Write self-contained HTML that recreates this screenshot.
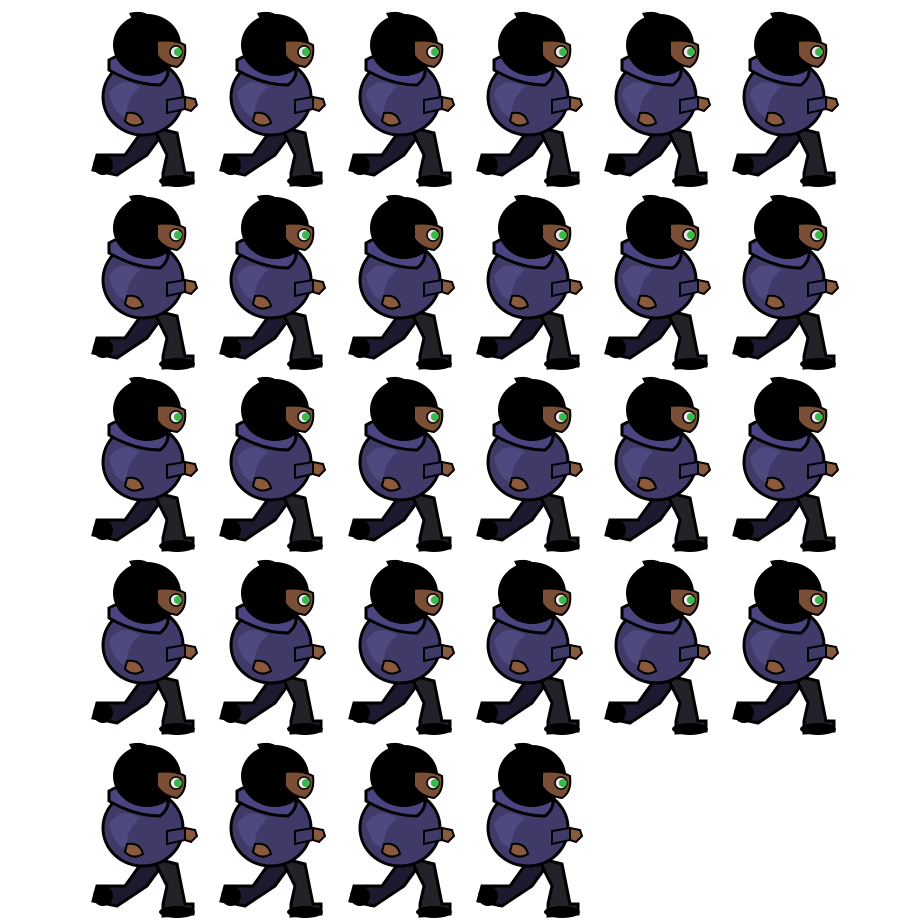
<!DOCTYPE html>
<html><head><meta charset="utf-8"><style>html,body{margin:0;padding:0;background:#fff;width:920px;height:920px;overflow:hidden}</style></head>
<body>
<svg id="s" width="920" height="920" viewBox="0 0 920 920" xmlns="http://www.w3.org/2000/svg">
<defs>
<g id="fig">
  <path d="M60 122 L40 150 L12 150 L8 165 L32 170 L62 150 L78 128 Z" fill="#1b1a2e" stroke="#000" stroke-width="3"/>
  <path d="M68 122 L92 128 L100 168 L108 168 L108 178 L78 180 L78 168 L82 150 Z" fill="#232229" stroke="#000" stroke-width="3"/>
  <ellipse cx="92" cy="176" rx="18" ry="6" fill="#000"/>
  <ellipse cx="18" cy="160" rx="10" ry="10" fill="#000"/>
  <ellipse cx="58" cy="92" rx="40" ry="38" fill="#3f3a68" stroke="#000" stroke-width="3"/>
  <path d="M24 88 Q35 70 55 82 Q40 95 42 112 Q30 112 24 88Z" fill="#4e4a80"/>
  <path d="M24 55 Q50 40 80 55 Q88 70 75 80 Q50 80 24 65 Z" fill="#4a4580" stroke="#000" stroke-width="3"/>
  <path d="M82 95 L100 92 L100 104 L82 108Z" fill="#3f3a68" stroke="#000" stroke-width="2"/>
  <path d="M100 92 L110 94 L112 100 L106 106 L100 104Z" fill="#8a5a3c" stroke="#000" stroke-width="2"/>
  <path d="M42 108 Q55 106 58 118 Q48 124 40 116Z" fill="#8a5a3c" stroke="#000" stroke-width="2"/>
  <ellipse cx="62" cy="40" rx="34" ry="31" fill="#000"/>
  <path d="M44 8 Q62 4 66 14 L48 16Z" fill="#000"/>
  <path d="M72 36 Q90 34 100 40 Q102 56 92 62 Q78 60 72 50Z" fill="#7a4e34" stroke="#000" stroke-width="2"/>
  <circle cx="91" cy="47" r="6" fill="#e8e8e8" stroke="#000" stroke-width="1.5"/>
  <circle cx="93" cy="47" r="4" fill="#3cb84a"/>
</g>
</defs>
</svg>
<script>
const cols=[85,213,342,470,598,726];
const rows=[5,188,370,553,736];
const counts=[6,6,6,6,4];
const svg=document.getElementById('s');
for(let r=0;r<rows.length;r++){
  for(let c=0;c<counts[r];c++){
    const u=document.createElementNS('http://www.w3.org/2000/svg','use');
    u.setAttribute('href','#fig');
    u.setAttribute('x',cols[c]);
    u.setAttribute('y',rows[r]);
    
    
    svg.appendChild(u);
  }
}
</script>
</body></html>
